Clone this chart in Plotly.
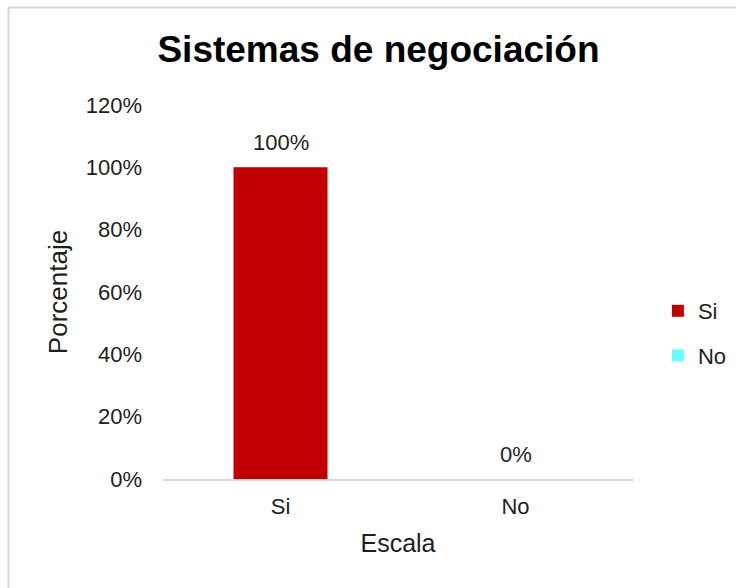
import plotly.graph_objects as go

# Chart data
categories = ["Si", "No"]
values = [1.00, 0.00]
colors = ["#C00000", "#66FFFF"]
y_ticks = [0, 0.2, 0.4, 0.6, 0.8, 1.0, 1.2]
y_tick_labels = ["0%", "20%", "40%", "60%", "80%", "100%", "120%"]

title_text = "Sistemas de negociación"
x_title = "Escala"
y_title = "Porcentaje"

FONT = "Liberation Sans, Arial, sans-serif"
TEXT_COLOR = "#1e1e1e"

W, H = 736, 588
L, R, T, B = 163, 103, 105, 109

fig = go.Figure()
for i, (cat, val, col) in enumerate(zip(categories, values, colors)):
    fig.add_trace(go.Bar(
        x=[cat], y=[val], name=cat, marker_color=col,
        marker_line_width=0, width=0.4, legendgroup=cat,
    ))
    # value label above each bar
    fig.add_annotation(
        x=cat, y=val, xref="x", yref="y",
        text=f"{val * 100:.0f}%", showarrow=False,
        yanchor="middle", yshift=25,
        font=dict(family=FONT, size=22, color=TEXT_COLOR),
    )

fig.update_layout(
    width=W, height=H,
    margin=dict(l=L, r=R, t=T, b=B, autoexpand=False),
    paper_bgcolor="white", plot_bgcolor="white",
    barmode="overlay",
    font=dict(family=FONT, size=22, color=TEXT_COLOR),
    title=dict(
        text=f"<b>{title_text}</b>",
        x=378.5 / W, xanchor="center",
        y=1 - 49 / H, yanchor="middle", yref="container",
        font=dict(family=FONT, size=37, color="black"),
    ),
    legend=dict(
        x=1.053, xanchor="left", y=0.389, yanchor="middle",
        traceorder="grouped", tracegroupgap=13,
        font=dict(family=FONT, size=22, color=TEXT_COLOR),
        itemwidth=30, bgcolor="rgba(0,0,0,0)",
    ),
    showlegend=True,
)

fig.update_xaxes(
    type="category", categoryorder="array", categoryarray=categories,
    showgrid=False, showline=True, linecolor="#d9d9d9", linewidth=2,
    ticks="", ticklabelstandoff=7,
    tickfont=dict(family=FONT, size=22, color=TEXT_COLOR),
    title=dict(text=x_title, standoff=16, font=dict(family=FONT, size=25, color=TEXT_COLOR)),
    automargin=False,
)
fig.update_yaxes(
    range=[0, 1.2], tickvals=y_ticks, ticktext=y_tick_labels,
    showgrid=False, showline=False, zeroline=False,
    ticks="", ticklabelstandoff=20,
    tickfont=dict(family=FONT, size=22, color=TEXT_COLOR),
    title=dict(text=y_title, standoff=10, font=dict(family=FONT, size=26, color=TEXT_COLOR)),
    automargin=False,
)

# light grey chart-area frame: only the top and left edges fall inside the canvas
pw, ph = W - L - R, H - T - B
left_x = (8.5 - L) / pw
top_y = (H - B - 7.5) / ph
far_x = (W + 60 - L) / pw
far_y = (H - B - (H + 60)) / ph
frame = dict(color="#d9d9d9", width=2)
fig.add_shape(type="line", xref="paper", yref="paper",
              x0=left_x, x1=far_x, y0=top_y, y1=top_y, line=frame, layer="below")
fig.add_shape(type="line", xref="paper", yref="paper",
              x0=left_x, x1=left_x, y0=top_y, y1=far_y, line=frame, layer="below")

fig.write_html("out.html")
